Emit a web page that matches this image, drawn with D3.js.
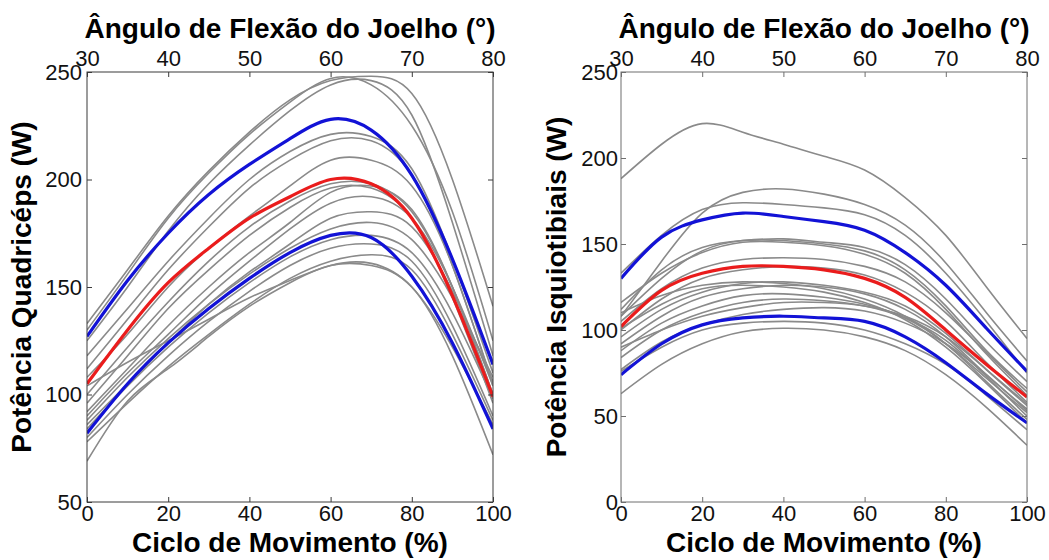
<!DOCTYPE html>
<html>
<head>
<meta charset="utf-8">
<script src="https://cdn.jsdelivr.net/npm/d3@7"></script>
<style>
  body { margin: 0; background: #fff; }
  svg { display: block; font-family: "Liberation Sans", Arial, Helvetica, sans-serif; }
</style>
</head>
<body>
<svg id="chart" width="1049" height="560"></svg>
<script>
// x samples: movement cycle (%)
const cyclePct = [0, 10, 20, 30, 40, 50, 60, 70, 80, 90, 100];
const cycleTicks = [0, 20, 40, 60, 80, 100];
const kneeTicks = [30, 40, 50, 60, 70, 80];

// quadriceps power (W)
const quadTicks = [50, 100, 150, 200, 250];
const quadMean  = [105, 130, 152, 168, 182, 192, 200, 198, 182, 146, 99];
const quadUpper = [127, 153, 175, 193, 207, 219, 228, 223, 202, 163, 114];
const quadLower = [82, 105, 124, 140, 154, 166, 174, 173, 155, 124, 84];
const quadSubjects = [
  [133, 158, 183, 204, 222, 237, 246, 248, 240, 200, 141],
  [130, 156, 182, 203, 221, 236, 247, 244, 225, 185, 125],
  [125, 150, 176, 198, 216, 232, 244, 246, 230, 180, 118],
  [118, 140, 162, 182, 200, 213, 221, 220, 205, 163, 110],
  [112, 135, 158, 178, 196, 209, 218, 218, 202, 160, 105],
  [108, 128, 150, 168, 183, 197, 209, 209, 197, 160, 104],
  [100, 122, 143, 162, 178, 190, 198, 198, 185, 150, 100],
  [96, 118, 140, 158, 174, 187, 196, 196, 182, 145, 96],
  [92, 112, 132, 150, 166, 180, 194, 197, 186, 150, 100],
  [90, 110, 128, 146, 162, 177, 189, 192, 182, 150, 104],
  [86, 105, 124, 142, 157, 170, 182, 185, 178, 148, 106],
  [88, 108, 126, 142, 156, 168, 177, 180, 172, 145, 108],
  [84, 104, 122, 138, 152, 164, 172, 174, 166, 138, 98],
  [80, 100, 118, 134, 148, 160, 168, 170, 162, 132, 90],
  [78, 96, 113, 128, 142, 154, 162, 165, 158, 128, 88],
  [69, 97, 112, 127, 141, 152, 160, 160, 150, 118, 72],
  [104, 115, 125, 135, 145, 153, 160, 161, 150, 122, 86]
];

// hamstring power (W)
const hamTicks = [0, 50, 100, 150, 200, 250];
const hamMean  = [102, 123, 133, 137, 137, 135, 130, 119, 100, 80, 61];
const hamUpper = [130, 154, 164, 168, 166, 163, 158, 145, 126, 101, 76];
const hamLower = [74, 92, 103, 107, 108, 107, 105, 96, 81, 63, 46];
const hamSubjects = [
  [188, 208, 220, 215, 208, 201, 193, 177, 155, 125, 95],
  [108, 140, 168, 180, 182, 179, 173, 161, 139, 110, 82],
  [133, 155, 170, 174, 173, 171, 167, 155, 133, 105, 75],
  [112, 135, 148, 152, 153, 151, 148, 138, 118, 93, 70],
  [108, 130, 146, 152, 152, 150, 146, 135, 114, 88, 66],
  [116, 133, 145, 151, 151, 149, 144, 133, 112, 86, 62],
  [105, 124, 136, 141, 142, 141, 137, 128, 110, 87, 64],
  [100, 118, 130, 135, 137, 136, 132, 122, 105, 81, 58],
  [96, 112, 122, 127, 128, 126, 122, 114, 98, 77, 56],
  [92, 108, 119, 124, 126, 125, 121, 112, 96, 74, 54],
  [88, 104, 114, 120, 121, 119, 115, 107, 92, 72, 52],
  [84, 100, 110, 116, 118, 117, 114, 107, 94, 73, 50],
  [90, 100, 108, 113, 116, 116, 114, 108, 96, 77, 57],
  [77, 93, 103, 109, 112, 113, 111, 104, 92, 74, 53],
  [63, 80, 92, 99, 101, 100, 96, 88, 74, 55, 33],
  [76, 90, 100, 104, 105, 104, 100, 92, 80, 62, 42],
  [110, 120, 126, 128, 127, 124, 118, 108, 92, 70, 48],
  [101, 115, 124, 126, 125, 122, 116, 106, 90, 69, 46]
];

const svg = d3.select("#chart");

const panels = [
  {x0: 87, x1: 493, yDomain: [50, 250], yTicks: quadTicks, boxColor: "#3a3a3a", labelPad: 5,
   yTitle: "Potência Quadricéps (W)", yTitleX: 31,
   subjects: quadSubjects, mean: quadMean, upper: quadUpper, lower: quadLower},
  {x0: 621, x1: 1027, yDomain: [0, 250], yTicks: hamTicks, boxColor: "#6e6e6e", labelPad: 3,
   yTitle: "Potência Isquiotibiais (W)", yTitleX: 566,
   subjects: hamSubjects, mean: hamMean, upper: hamUpper, lower: hamLower}
];

const plotTop = 72, plotBottom = 502;

panels.forEach((p, i) => {
  const x = d3.scaleLinear().domain([0, 100]).range([p.x0, p.x1]);
  const xKnee = d3.scaleLinear().domain([30, 80]).range([p.x0, p.x1]);
  const y = d3.scaleLinear().domain(p.yDomain).range([plotBottom, plotTop]);
  const cx = (p.x0 + p.x1) / 2;

  svg.append("clipPath").attr("id", "clip" + i)
    .append("rect")
    .attr("x", p.x0).attr("y", plotTop)
    .attr("width", p.x1 - p.x0).attr("height", plotBottom - plotTop);

  const line = d3.line()
    .x((d, j) => x(cyclePct[j]))
    .y(d => y(d))
    .curve(d3.curveNatural);

  const g = svg.append("g").attr("clip-path", `url(#clip${i})`);

  // individual subjects
  g.selectAll("path.subject")
    .data(p.subjects)
    .join("path")
    .attr("class", "subject")
    .attr("d", line)
    .attr("fill", "none")
    .attr("stroke", "#8a8a8a")
    .attr("stroke-width", 1.6);

  // mean +/- sd
  [p.upper, p.lower].forEach(s => {
    g.append("path")
      .attr("d", line(s))
      .attr("fill", "none")
      .attr("stroke", "#1212d6")
      .attr("stroke-width", 3.2);
  });
  g.append("path")
    .attr("d", line(p.mean))
    .attr("fill", "none")
    .attr("stroke", "#ea1c1c")
    .attr("stroke-width", 3.2);

  // axes, ticks pointing inward
  const style = a => {
    a.select(".domain").remove();
    a.selectAll(".tick line").attr("stroke", p.boxColor);
    a.selectAll(".tick text")
      .attr("fill", "#111")
      .style("font-size", "22px")
      .style("font-family", "'Liberation Sans', Arial, sans-serif");
  };

  svg.append("g")
    .attr("transform", `translate(0,${plotBottom})`)
    .call(d3.axisBottom(x).tickValues(cycleTicks).tickSizeInner(-5).tickSizeOuter(0).tickPadding(3))
    .call(style);

  svg.append("g")
    .attr("transform", `translate(0,${plotTop})`)
    .call(d3.axisTop(xKnee).tickValues(kneeTicks).tickSizeInner(-5).tickSizeOuter(0).tickPadding(6))
    .call(style);

  svg.append("g")
    .attr("transform", `translate(${p.x0},0)`)
    .call(d3.axisLeft(y).tickValues(p.yTicks).tickSizeInner(-5).tickSizeOuter(0).tickPadding(p.labelPad))
    .call(style);

  svg.append("g")
    .attr("transform", `translate(${p.x1},0)`)
    .call(d3.axisRight(y).tickValues(p.yTicks).tickSizeInner(-5).tickSizeOuter(0).tickFormat(""))
    .call(style);

  // box
  svg.append("rect")
    .attr("x", p.x0).attr("y", plotTop)
    .attr("width", p.x1 - p.x0).attr("height", plotBottom - plotTop)
    .attr("fill", "none")
    .attr("stroke", p.boxColor)
    .attr("stroke-width", 1);

  // titles
  svg.append("text")
    .attr("x", cx).attr("y", 38)
    .attr("text-anchor", "middle")
    .style("font-size", "28px").style("font-weight", "bold")
    .text("Ângulo de Flexão do Joelho (°)");

  svg.append("text")
    .attr("x", cx).attr("y", 552)
    .attr("text-anchor", "middle")
    .style("font-size", "28px").style("font-weight", "bold")
    .text("Ciclo de Movimento (%)");

  svg.append("text")
    .attr("transform", `translate(${p.yTitleX},${(plotTop + plotBottom) / 2}) rotate(-90)`)
    .attr("text-anchor", "middle")
    .style("font-size", "28px").style("font-weight", "bold")
    .text(p.yTitle);
});
</script>
</body>
</html>
